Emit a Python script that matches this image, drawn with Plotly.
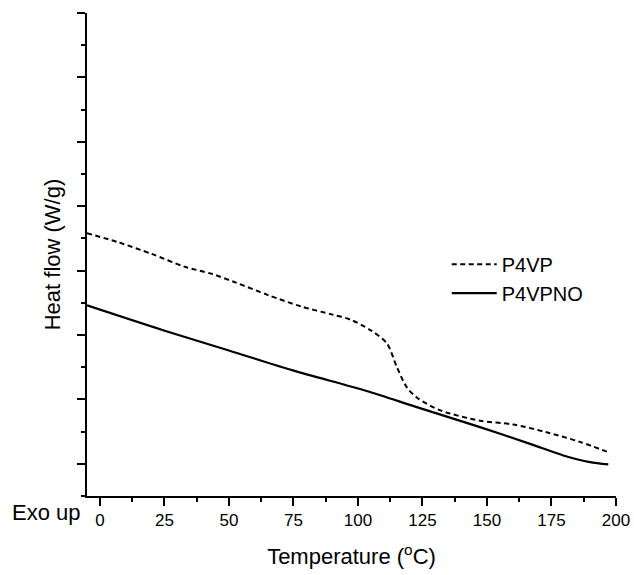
import plotly.graph_objects as go

# Temperature (°C) and heat flow (arbitrary W/g units, Exo up)
p4vp_t = [-5, 7.1, 20.0, 32.9, 43.3, 52.3, 65.2, 78.2, 89.8, 97.0, 105.1, 111.2, 115.1,
          118.9, 122.8, 131.9, 147.3, 160.2, 173.1, 186.0, 197.0]
p4vp_hf = [3.58, 3.44, 3.26, 3.06, 2.95, 2.82, 2.62, 2.44, 2.32, 2.24, 2.07, 1.87, 1.50,
           1.19, 1.03, 0.83, 0.67, 0.61, 0.49, 0.34, 0.18]

p4vpno_t = [-5, 24.8, 50.0, 74.8, 103.4, 122.8, 147.3, 166.7, 179.6, 189.9, 197.0]
p4vpno_hf = [2.46, 2.07, 1.76, 1.45, 1.13, 0.88, 0.57, 0.31, 0.13, 0.025, -0.01]

x_ticks = [0, 25, 50, 75, 100, 125, 150, 175, 200]

FONT = "Arial, Liberation Sans, sans-serif"

fig = go.Figure()
fig.add_trace(go.Scatter(x=p4vp_t, y=p4vp_hf, mode="lines", name="P4VP",
                         line=dict(color="black", width=2, dash="5px,3.5px", shape="spline", smoothing=0.8)))
fig.add_trace(go.Scatter(x=p4vpno_t, y=p4vpno_hf, mode="lines", name="P4VPNO",
                         line=dict(color="black", width=2.2, shape="spline", smoothing=0.8)))

fig.update_layout(
    width=634, height=575,
    margin=dict(l=87, r=18, t=13, b=79, autoexpand=False),
    plot_bgcolor="white", paper_bgcolor="white",
    font=dict(family=FONT, color="black"),
    showlegend=True,
    legend=dict(x=0.68, y=0.45, xanchor="left", yanchor="middle",
                bgcolor="rgba(0,0,0,0)", font=dict(size=20, family=FONT),
                itemwidth=45, tracegroupgap=0),
    xaxis=dict(range=[-5, 200], tickmode="array", tickvals=x_ticks,
               ticktext=[str(v) for v in x_ticks], automargin=False,
               showgrid=False, zeroline=False, showline=True, linecolor="black", linewidth=2,
               ticks="outside", ticklen=8, tickwidth=1.5, tickcolor="black",
               tickfont=dict(size=17, family=FONT),
               minor=dict(ticks="outside", ticklen=4, tickwidth=1.5, tickcolor="black",
                          tick0=0, dtick=12.5, showgrid=False),
               title=dict(text="Temperature (<sup>o</sup>C)", font=dict(size=22, family=FONT), standoff=19)),
    yaxis=dict(range=[-0.5, 7], tickmode="linear", tick0=0, dtick=1, automargin=False,
               showgrid=False, zeroline=False, showline=True, linecolor="black", linewidth=2,
               ticks="outside", ticklen=8, tickwidth=1.5, tickcolor="black",
               showticklabels=False,
               minor=dict(ticks="outside", ticklen=4, tickwidth=1.5, tickcolor="black",
                          tick0=0.5, dtick=1, showgrid=False),
               title=dict(text="Heat flow (W/g)", font=dict(size=22, family=FONT), standoff=10)),
)

fig.add_annotation(text="Exo up", xref="paper", yref="paper", x=-0.146, y=-0.004,
                   xanchor="left", yanchor="top", showarrow=False,
                   font=dict(size=22, family=FONT, color="black"))

fig.write_html("out.html")
